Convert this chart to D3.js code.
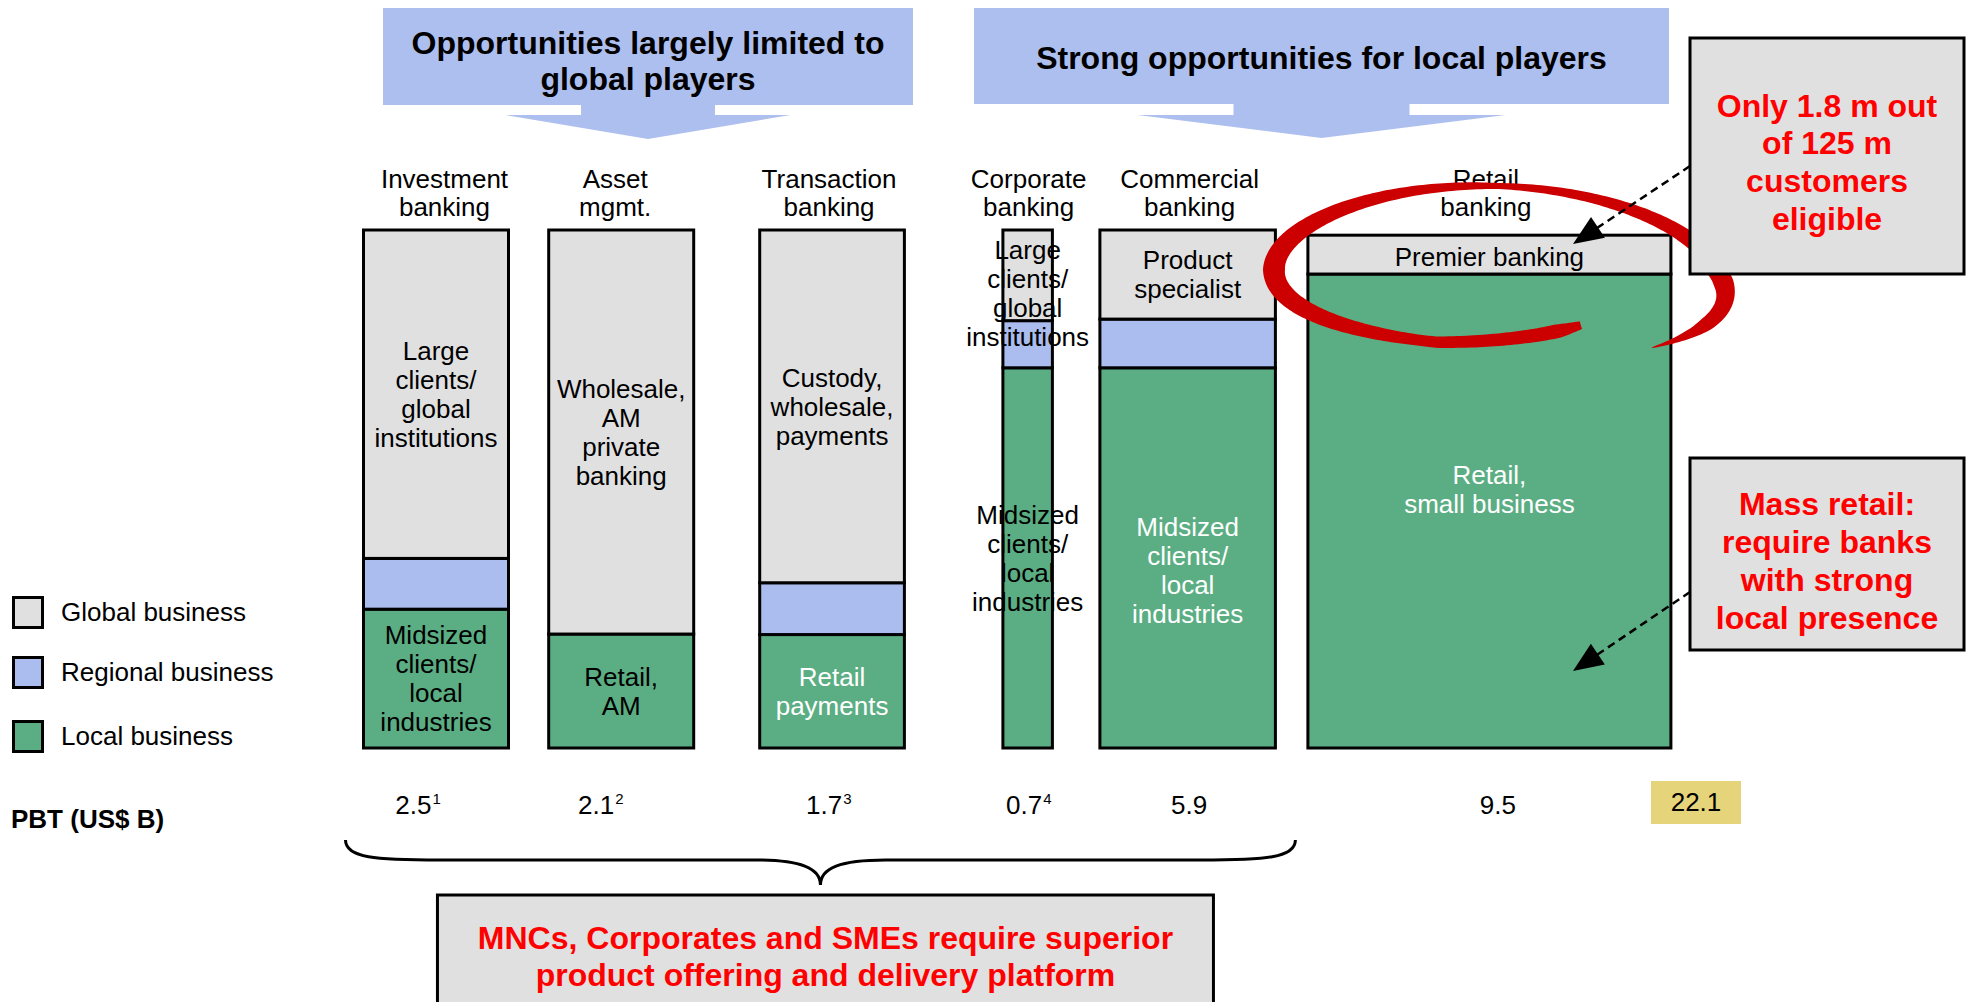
<!DOCTYPE html>
<html><head><meta charset="utf-8">
<script src="https://cdn.jsdelivr.net/npm/d3@7"></script>
<style>
body{margin:0;background:#fff}
svg{display:block}
text{font-family:"Liberation Sans",Arial,Helvetica,sans-serif}
</style>
</head><body>
<svg id="chart" width="1971" height="1002"></svg>
<script>
// ---------------- DATA ----------------
const categories = ["Investment banking","Asset mgmt.","Transaction banking","Corporate banking","Commercial banking","Retail banking"];
const categoryLines = [["Investment","banking"],["Asset","mgmt."],["Transaction","banking"],["Corporate","banking"],["Commercial","banking"],["Retail","banking"]];
const globalShare   = [63.4, 78.0, 68.1, 17.5, 17.2, 7.5];
const regionalShare = [ 9.8,  0.0, 10.0,  9.1,  9.4, 0.0];
const localShare    = [26.8, 22.0, 21.9, 73.4, 73.4, 91.5];
const globalLabels = [["Large","clients/","global","institutions"],["Wholesale,","AM","private","banking"],["Custody,","wholesale,","payments"],["Large","clients/","global","institutions"],["Product","specialist"],["Premier banking"]];
const localLabels  = [["Midsized","clients/","local","industries"],["Retail,","AM"],["Retail","payments"],["Midsized","clients/","local","industries"],["Midsized","clients/","local","industries"],["Retail,","small business"]];
const pbtValues = [2.5, 2.1, 1.7, 0.7, 5.9, 9.5];
const pbtNotes  = ["1","2","3","4","",""];
const pbtTotal  = 22.1;
const seriesKeys  = ["global","regional","local"];
const seriesNames = ["Global business","Regional business","Local business"];
const bannerTexts = [["Opportunities largely limited to","global players"],["Strong opportunities for local players"]];
const callout1 = ["Only 1.8 m out","of 125 m","customers","eligible"];
const callout2 = ["Mass retail:","require banks","with strong","local presence"];
const bottomText = ["MNCs, Corporates and SMEs require superior","product offering and delivery platform"];
const pbtLabel = "PBT (US$ B)";

// ---------------- LAYOUT / STYLE ----------------
const colWidth = [145, 145, 144.7, 49.5, 175.5, 363];
const colGap   = [0, 40.2, 66, 98.5, 47.5, 32.5];
const colors = {global:"#e0e0e0", regional:"#abbdee", local:"#5bae83"};
const localTextColor = ["#000","#000","#fff","#000","#fff","#fff"];
const globalNudge = [0,0,0,18,0,2];
const localNudge  = [0,0,0,0,12,-22];
const headerNudge = [8.5,-6,-3,1,2,-3.5];
const pbtNudge    = [-22.6,-25,-8,-3.5,1.5,8.5];
const FS = 26, LH = 29;
const RED = "#ff0000";

let acc = 0; const colStart = [], colEnd = [];
colWidth.forEach((w,i)=>{ acc += colGap[i]; colStart.push(acc); acc += w; colEnd.push(acc); });
const x = d3.scaleLinear().domain([0, acc]).range([363.5, 363.5 + acc]);
const y = d3.scaleLinear().domain([0, 100]).range([748, 230]);
const colCenter = i => x((colStart[i] + colEnd[i]) / 2);

const svg = d3.select("#chart");

// ---------------- Banners ----------------
function banner(x0, x1, y0, y1, stemW, headW, headY, tipY, lines, lineYs){
  const cx = (x0 + x1) / 2;
  const g = svg.append("g");
  g.append("rect").attr("x", x0).attr("y", y0).attr("width", x1 - x0).attr("height", y1 - y0).attr("fill", "#adbfee");
  g.append("rect").attr("x", cx - stemW/2).attr("y", y1 - 1).attr("width", stemW).attr("height", headY - y1 + 1).attr("fill", "#adbfee");
  g.append("path").attr("d", `M${cx-headW/2},${headY}L${cx+headW/2},${headY}L${cx},${tipY}Z`).attr("fill", "#adbfee");
  lines.forEach((t,k)=>{
    g.append("text").attr("x", cx).attr("y", lineYs[k]).attr("dy", "0.36em").attr("text-anchor", "middle")
      .attr("font-size", 32).attr("font-weight", "bold").attr("fill", "#000").text(t);
  });
}
banner(383, 913, 8, 105, 134, 285, 115, 139, bannerTexts[0], [42, 78]);
banner(974, 1669, 8, 104, 176, 368, 115, 138, bannerTexts[1], [57]);

// ---------------- Column headers ----------------
categoryLines.forEach((lines, i)=>{
  lines.forEach((t,k)=>{
    svg.append("text").attr("x", colCenter(i) + headerNudge[i]).attr("y", 179 + k*28).attr("dy","0.36em")
      .attr("text-anchor","middle").attr("font-size", FS).attr("fill","#000").text(t);
  });
});

// ---------------- Bars ----------------
const rows = categories.map((c,i)=>({cat:c, local:localShare[i], regional:regionalShare[i], global:globalShare[i]}));
const stacked = d3.stack().keys(["local","regional","global"])(rows);
const barG = svg.append("g");
stacked.forEach(s=>{
  s.forEach((d,i)=>{
    if (d[1] - d[0] <= 0) return;
    barG.append("rect")
      .attr("x", x(colStart[i])).attr("width", x(colEnd[i]) - x(colStart[i]))
      .attr("y", y(d[1])).attr("height", y(d[0]) - y(d[1]))
      .attr("fill", colors[s.key]).attr("stroke", "#000").attr("stroke-width", 3);
  });
});

function multiLine(cx, cy, lines, color, size, lh){
  const n = lines.length;
  lines.forEach((t,k)=>{
    svg.append("text").attr("x", cx).attr("y", cy + (k - (n-1)/2) * lh).attr("dy","0.36em")
      .attr("text-anchor","middle").attr("font-size", size).attr("fill", color).text(t);
  });
}
const gS = stacked.find(s=>s.key==="global"), lS = stacked.find(s=>s.key==="local");
categories.forEach((c,i)=>{
  const gd = gS[i], ld = lS[i];
  multiLine(colCenter(i), (y(gd[0]) + y(gd[1]))/2 + globalNudge[i], globalLabels[i], "#000", FS, LH);
  multiLine(colCenter(i), (y(ld[0]) + y(ld[1]))/2 + localNudge[i], localLabels[i], localTextColor[i], FS, LH);
});

// ---------------- Legend ----------------
const legendY = [612, 672, 736];
seriesKeys.forEach((k,i)=>{
  svg.append("rect").attr("x", 13.5).attr("y", legendY[i] - 14.5).attr("width", 29).attr("height", 30)
    .attr("fill", colors[k]).attr("stroke","#000").attr("stroke-width",3);
  svg.append("text").attr("x", 61).attr("y", legendY[i]).attr("dy","0.36em").attr("font-size", FS).attr("fill","#000").text(seriesNames[i]);
});

// ---------------- PBT row ----------------
svg.append("text").attr("x", 11).attr("y", 819).attr("dy","0.36em").attr("font-size", FS).attr("font-weight","bold").text(pbtLabel);
const fmt = d3.format(".1f");
pbtValues.forEach((v,i)=>{
  const cx = colCenter(i) + pbtNudge[i];
  const t = svg.append("text").attr("x", cx).attr("y", 805).attr("dy","0.36em").attr("text-anchor","middle")
    .attr("font-size", FS).attr("fill","#000").text(fmt(v));
  if (pbtNotes[i]) {
    const w = t.node().getComputedTextLength();
    svg.append("text").attr("x", cx + w/2 + 1).attr("y", 805).attr("dy","-0.05em")
      .attr("font-size", 15).attr("fill","#000").text(pbtNotes[i]);
  }
});
svg.append("rect").attr("x", 1651).attr("y", 781).attr("width", 90).attr("height", 43).attr("fill", "#e6d47a");
svg.append("text").attr("x", 1696).attr("y", 802).attr("dy","0.36em").attr("text-anchor","middle")
  .attr("font-size", FS).attr("fill","#000").text(fmt(pbtTotal));

// ---------------- Red swoosh ----------------
(function(){
  const cx = colCenter(5) + 6.5, cy = 266, a = 222, b = 80, phi = 0.03, sag = 10;
  const rf = d3.scaleLinear().domain([52,-10,-255,-300]).range([1.16,1,1,0.78]);
  const hw = d3.scaleLinear().domain([52,30,0,-90,-180,-250,-290,-300]).range([0.5,7,10,3,11,5.5,7,4]);
  const N = 320, P = [];
  for (let k = 0; k <= N; k++) {
    const t = 52 + (-300 - 52) * k / N, th = t * Math.PI / 180, f = rf(t);
    const ex = a * Math.cos(th), ey = b * Math.sin(th);
    P.push({t, x: cx + f * (ex*Math.cos(phi) - ey*Math.sin(phi)),
               y: cy + f * (ex*Math.sin(phi) + ey*Math.cos(phi)) + sag * Math.cos(th)**2});
  }
  const outer = [], inner = [];
  P.forEach((p,k)=>{
    const p0 = P[Math.max(0,k-1)], p1 = P[Math.min(N,k+1)];
    const tx = p1.x - p0.x, ty = p1.y - p0.y, L = Math.hypot(tx,ty);
    const nx = -ty / L, ny = tx / L, w = hw(p.t);
    outer.push([p.x + nx*w, p.y + ny*w]);
    inner.push([p.x - nx*w, p.y - ny*w]);
  });
  const poly = outer.concat(inner.reverse());
  svg.append("path").attr("d", d3.line()(poly) + "Z").attr("fill", "#cc0000");
})();

// ---------------- Callouts ----------------
function callout(x0, y0, w, h, lines, lineY0, lh){
  svg.append("rect").attr("x", x0).attr("y", y0).attr("width", w).attr("height", h)
    .attr("fill", "#e0e0e0").attr("stroke", "#000").attr("stroke-width", 3);
  lines.forEach((t,k)=>{
    svg.append("text").attr("x", x0 + w/2).attr("y", lineY0 + k*lh).attr("dy","0.36em").attr("text-anchor","middle")
      .attr("font-size", 32).attr("font-weight","bold").attr("fill", RED).text(t);
  });
}
callout(1690, 38, 274, 236, callout1, 105, 37.8);
callout(1690, 458, 274, 192, callout2, 503, 38);

function dashedArrow(x0, y0, tx, ty){
  const dx = tx - x0, dy = ty - y0, L = Math.hypot(dx,dy), ux = dx/L, uy = dy/L;
  const hl = 30, hwid = 12.5, bx = tx - ux*hl, by = ty - uy*hl;
  svg.append("line").attr("x1", x0).attr("y1", y0).attr("x2", bx + ux*2).attr("y2", by + uy*2)
    .attr("stroke","#000").attr("stroke-width",2.5).attr("stroke-dasharray","8,5");
  svg.append("path").attr("d", `M${tx},${ty}L${bx - uy*hwid},${by + ux*hwid}L${bx + uy*hwid},${by - ux*hwid}Z`).attr("fill","#000");
}
dashedArrow(1690, 166, 1573, 244);
dashedArrow(1690, 592, 1573, 671);

// ---------------- Brace & bottom box ----------------
(function(){
  const x0 = x(colStart[0]) - 18, x1 = x(colEnd[4]) + 20, xm = (x0 + x1) / 2;
  const yT = 840, yM = 860, yP = 885;
  const d = `M${x0},${yT}C${x0},${yM-2} ${x0+30},${yM} ${x0+95},${yM}L${xm-65},${yM}` +
            `C${xm-20},${yM} ${xm},${yM+8} ${xm},${yP}C${xm},${yM+8} ${xm+20},${yM} ${xm+65},${yM}` +
            `L${x1-95},${yM}C${x1-30},${yM} ${x1},${yM-2} ${x1},${yT}`;
  svg.append("path").attr("d", d).attr("fill","none").attr("stroke","#000").attr("stroke-width",3);
  const bw = 776, bxl = xm + 5 - bw/2;
  svg.append("rect").attr("x", bxl).attr("y", 895).attr("width", bw).attr("height", 130)
    .attr("fill","#e0e0e0").attr("stroke","#000").attr("stroke-width",3);
  bottomText.forEach((t,k)=>{
    svg.append("text").attr("x", bxl + bw/2).attr("y", 937.5 + k*37).attr("dy","0.36em").attr("text-anchor","middle")
      .attr("font-size", 32).attr("font-weight","bold").attr("fill", RED).text(t);
  });
})();
</script>
</body></html>
